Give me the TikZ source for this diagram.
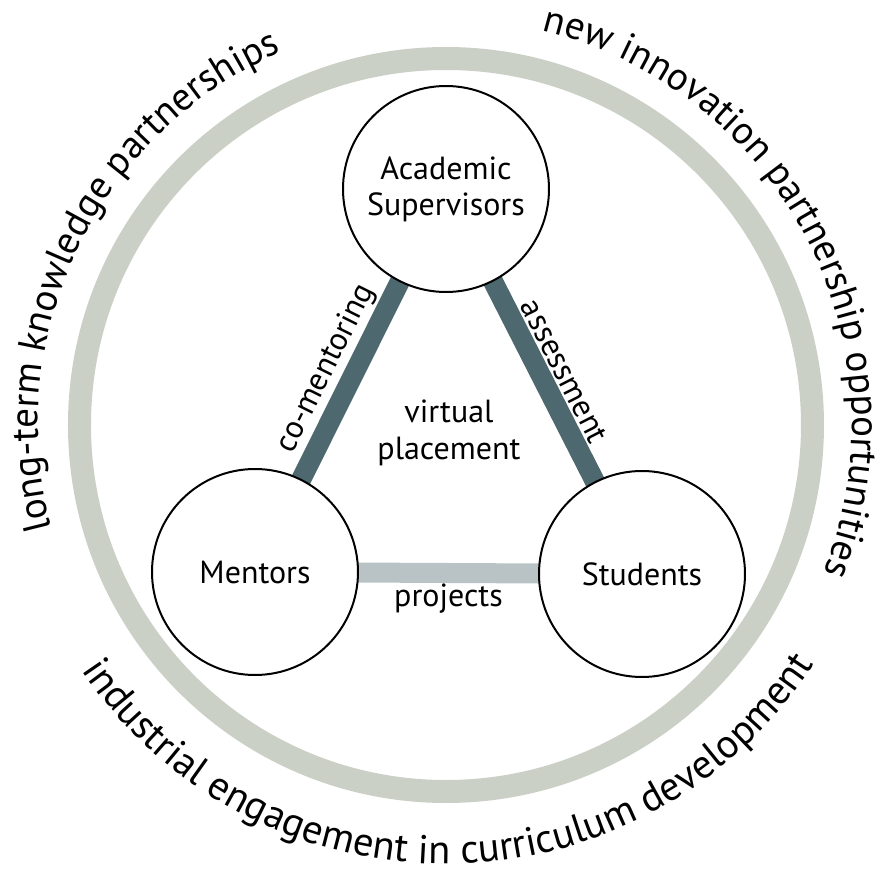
\documentclass[tikz,border=0pt]{standalone}
\usepackage{fontspec}
\setmainfont{PT Sans}
\usetikzlibrary{decorations.text,backgrounds}

\definecolor{ringgrey}{HTML}{CBD0C7}
\definecolor{bardark}{HTML}{4E6870}
\definecolor{barlight}{HTML}{B9C3C6}
\newcommand{\rimfont}{\fontsize{19.5}{24}\selectfont}
\newcommand{\basefont}{\fontsize{20.2}{24}\selectfont}

\begin{document}
\begin{tikzpicture}[x=0.5pt,y=0.5pt,
        party/.style={
        circle, draw=black, line width=1pt,
        inner sep=0pt, minimum size=103pt,
        fill=white, align=center,
        font=\fontsize{16}{18}\selectfont},
        tie/.style={draw=bardark, line width=10pt},
        tielabel/.style={sloped, inner sep=1pt,
        font=\fontsize{16}{18}\selectfont},
        ]

        \useasboundingbox (-446,-449) rectangle (434,425);

        % outer ring
        \draw[ringgrey, line width=11.5pt] (0,0) circle[radius=183.25pt];

        \node (acad) [party] at (0,236) {Academic\\Supervisors};
        \node (ment) [party] at (-191,-147) {Mentors};
        \node (stud) [party] at (196,-149) {Students};

        \begin{scope}[on background layer]
        \draw[tie] (acad.center) -- (ment.center);
        \draw[tie] (acad.center) -- (stud.center);
        \draw[tie, draw=barlight] (ment.center) -- (stud.center);
        \end{scope}

        \path (ment) -- (acad) node[tielabel, pos=0.5, above=5pt] {co-mentoring};
        \path (acad) -- (stud) node[tielabel, pos=0.5, above=5pt] {assessment};
        \path (ment) -- (stud) node[midway, below=4pt, inner sep=1pt,
            font=\fontsize{16}{18}\selectfont] (proj) {projects};

        \node (virt) [align=center, font=\fontsize{16}{18.5}\selectfont]
            at (3,-8) {virtual\\placement};

        % texts round the ring
        \path[decorate, decoration={text along path, text align=center,
            text={|\rimfont|long-term knowledge partnerships}}]
            (204.25:204pt) arc[start angle=204.25, end angle=104.25, radius=204pt];
        \path[decorate, decoration={text along path, text align=center,
            text={|\rimfont|new innovation partnership opportunities}}]
            (77.5:203pt) arc[start angle=77.5, end angle=-22.5, radius=203pt];
        \path[decorate, decoration={text along path, text align=center,
            text={|\basefont|industrial engagement in curriculum development}}]
            (210.5:219.5pt) arc[start angle=210.5, end angle=330.5, radius=219.5pt];
    \end{tikzpicture}
\end{document}
